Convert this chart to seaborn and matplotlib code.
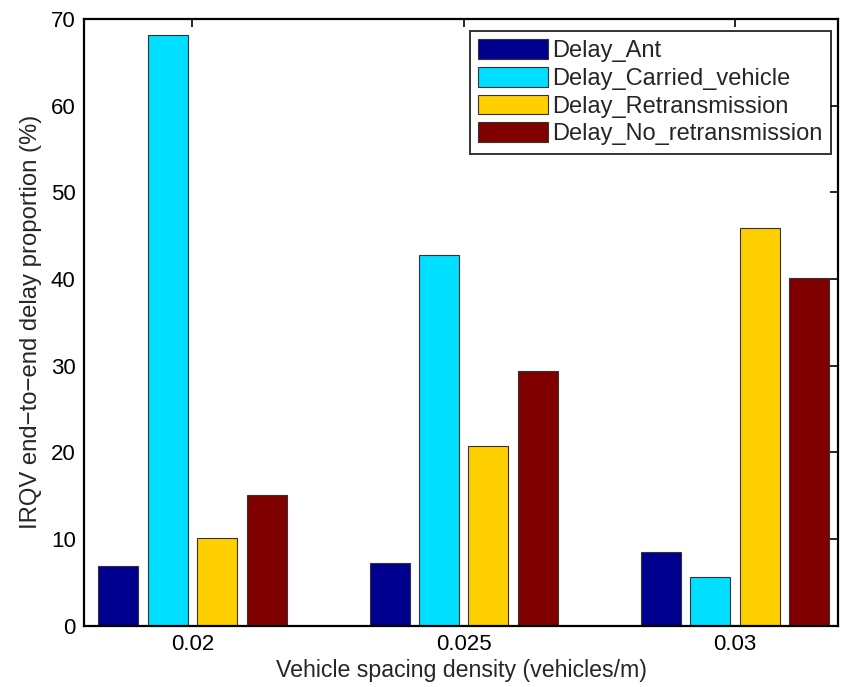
import matplotlib
matplotlib.use("Agg")
import matplotlib.pyplot as plt
import seaborn as sns
import pandas as pd
from matplotlib.patches import Patch

densities = ["0.02", "0.025", "0.03"]
series = ["Delay_Ant", "Delay_Carried_vehicle", "Delay_Retransmission", "Delay_No_retransmission"]
delay_ant = [6.85, 7.2, 8.47]
delay_carried = [68.2, 42.8, 5.65]
delay_retrans = [10.1, 20.7, 45.9]
delay_noretrans = [15.05, 29.4, 40.1]
colors = ["#00008F", "#00DFFF", "#FFCF00", "#800000"]

rows = []
for s, vals in zip(series, [delay_ant, delay_carried, delay_retrans, delay_noretrans]):
    for d, v in zip(densities, vals):
        rows.append({"density": d, "series": s, "value": v})
df = pd.DataFrame(rows)

sns.set_theme(style="white")
plt.rcParams["font.family"] = ["Liberation Sans", "DejaVu Sans"]

fig = plt.figure(figsize=(8.46, 6.87), dpi=100)
ax = fig.add_axes([0.0993, 0.0892, 0.8912, 0.8831])

sns.barplot(data=df, x="density", y="value", hue="series", order=densities,
            hue_order=series, palette=colors, width=0.728, gap=0.19,
            edgecolor="#333333", linewidth=0.8, saturation=1, ax=ax, legend=False)

ax.set_xlim(-0.40, 2.38)
ax.set_ylim(0, 70)
ax.set_yticks(range(0, 71, 10))
ax.set_xlabel("Vehicle spacing density (vehicles/m)", fontsize=16.7, labelpad=3)
ax.set_ylabel("IRQV end\u2212to\u2212end delay proportion (%)", fontsize=17.2, labelpad=6)
ax.tick_params(axis="both", which="both", direction="in", length=6, width=1.2,
               labelsize=16, top=True, right=True, colors="black", pad=6)
for sp in ax.spines.values():
    sp.set_visible(True)
    sp.set_color("black")
    sp.set_linewidth(1.6)

handles = [Patch(facecolor=c, edgecolor="#333333", linewidth=0.8) for c in colors]
leg = ax.legend(handles, series, loc="upper right", bbox_to_anchor=(0.9907, 0.9802),
                fontsize=17, frameon=True, fancybox=False, edgecolor="black",
                handlelength=2.95, handleheight=0.9, borderaxespad=0.0,
                labelspacing=0.2, handletextpad=0.2, borderpad=0.35)
leg.get_frame().set_linewidth(1.4)

fig.savefig("out.png", dpi=100)
